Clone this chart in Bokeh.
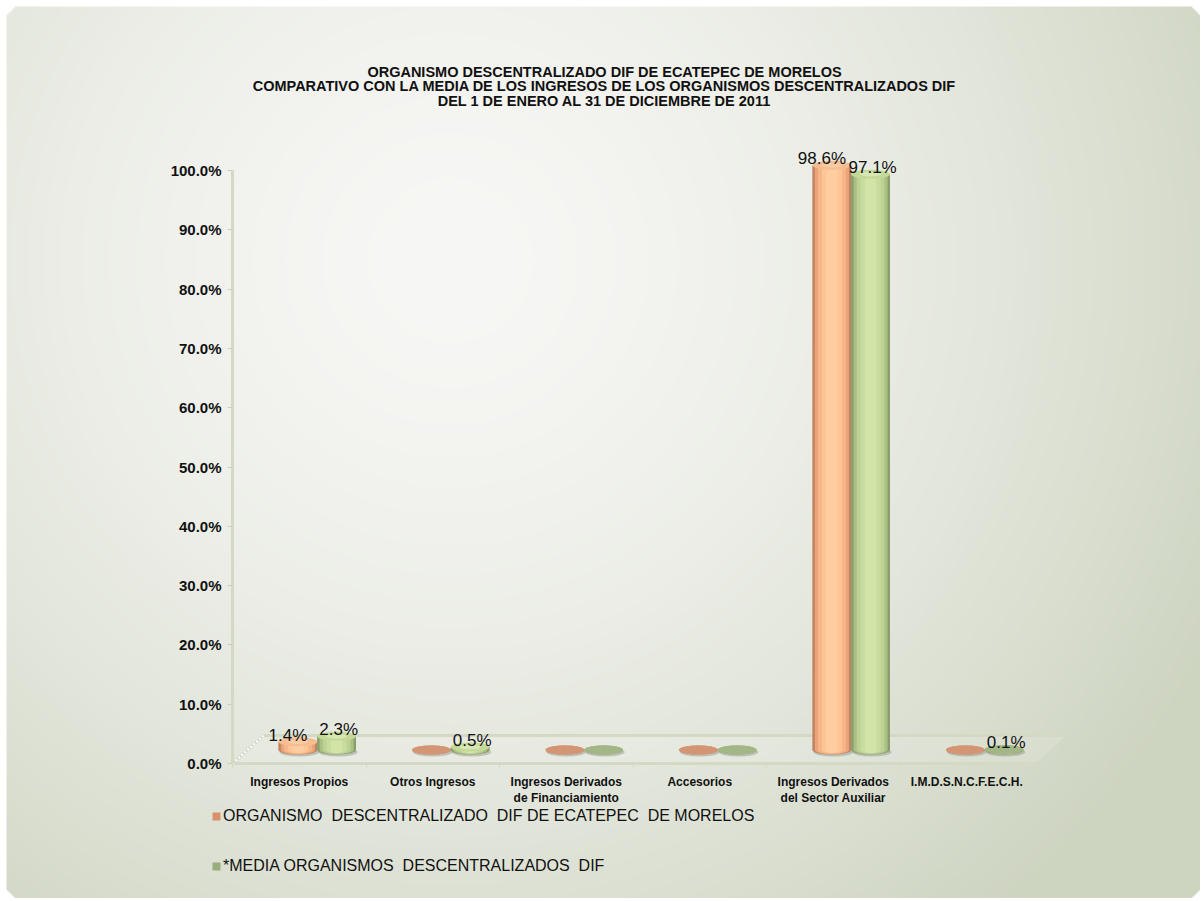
import numpy as np
from bokeh.plotting import figure
from bokeh.models import (Range1d, LinearAxis, FixedTicker, Label, Legend, LegendItem,
                          PrintfTickFormatter)
from bokeh.core.properties import value
from bokeh.embed import file_html
from bokeh.resources import INLINE

# ---------------- data ----------------
categories = ["Ingresos Propios", "Otros Ingresos", "Ingresos Derivados\nde Financiamiento",
              "Accesorios", "Ingresos Derivados\ndel Sector Auxiliar", "I.M.D.S.N.C.F.E.C.H."]
ecatepec = [1.4, 0.0, 0.0, 0.0, 98.6, 0.0]
media = [2.3, 0.5, 0.0, 0.0, 97.1, 0.1]
series_names = ["ORGANISMO  DESCENTRALIZADO  DIF DE ECATEPEC  DE MORELOS",
                "*MEDIA ORGANISMOS  DESCENTRALIZADOS  DIF"]
y_ticks = [0, 10, 20, 30, 40, 50, 60, 70, 80, 90, 100]
title_lines = ["ORGANISMO DESCENTRALIZADO DIF DE ECATEPEC DE MORELOS",
               "COMPARATIVO CON LA MEDIA DE LOS INGRESOS DE LOS ORGANISMOS DESCENTRALIZADOS DIF",
               "DEL 1 DE ENERO AL 31 DE DICIEMBRE DE 2011"]

# ---------------- layout constants ----------------
W, H = 1200, 898
OX, OY = 232.0, 763.0        # canvas pixel of data origin
SX, SY = 133.5, 5.93         # px per unit
x0, x1 = -OX / SX, (W - OX) / SX
y1, y0 = OY / SY, -(H - OY) / SY

FONT = "Liberation Sans"
TXT = "#111111"

p = figure(width=W, height=H, x_range=Range1d(x0, x1), y_range=Range1d(y0, y1),
           x_axis_type=None, y_axis_type=None, toolbar_location=None,
           output_backend="svg", min_border=0)
p.outline_line_color = None
p.background_fill_color = "white"
p.border_fill_color = "white"
p.xgrid.visible = False
p.ygrid.visible = False

# ---------------- background card gradient ----------------
sc = 2
nx, ny = W // sc + 1, H // sc + 1
gx = (np.arange(nx) + 0.5) * sc
gy = (np.arange(ny) + 0.5) * sc
X, Y = np.meshgrid(gx, gy)
d = np.sqrt((X - 450) ** 2 + (Y - 260) ** 2) / 860.0
t = np.clip(d, 0, 1) ** 1.6
L = np.array([247, 247, 245], float)
E = np.array([205, 212, 192], float)
rgb = L[None, None, :] + (E - L)[None, None, :] * t[:, :, None]
# rounded card mask
R = 14
cx0, cy0, cx1, cy1 = 6, 6, W, H
cx = np.clip(X, cx0 + R, cx1 - R)
cy = np.clip(Y, cy0 + R, cy1 - R)
inside = (((X - cx) ** 2 + (Y - cy) ** 2) <= R ** 2) & (X >= cx0) & (Y >= cy0)
alpha = np.where(inside, 255, 0)
img = np.zeros((ny, nx), dtype=np.uint32)
view = img.view(dtype=np.uint8).reshape((ny, nx, 4))
view[:, :, 0] = rgb[:, :, 0].astype(np.uint8)
view[:, :, 1] = rgb[:, :, 1].astype(np.uint8)
view[:, :, 2] = rgb[:, :, 2].astype(np.uint8)
view[:, :, 3] = alpha
img = img[::-1]
p.image_rgba(image=[img], x=x0, y=y1 - ny * sc / SY, dw=nx * sc / SX, dh=ny * sc / SY)

# ---------------- 3D floor ----------------
n = len(categories)
depth_dx, depth_dy = 31 / SX, 28 / SY
floor_x = [0, n + 0.03, n + 0.03 + depth_dx, depth_dx]
floor_y = [0, 0, depth_dy, depth_dy]
p.patch(floor_x, floor_y, fill_color="white", fill_alpha=0.12,
        line_color="#d3d9c5", line_width=3)
p.line([0, depth_dx], [0, depth_dy], line_color="white", line_width=2, line_dash="2 2")

# ---------------- cylinders ----------------
bar_w = 0.29
shift_x, shift_y = 0.135, 13.5 / SY
cap_h = 9 / SY
fracs = [1.0, 0.88, 0.72, 0.52, 0.3]
styles = [
    dict(off=-bar_w / 2, vals=ecatepec,
         body=["#bf8562", "#e9a477", "#f7b687", "#fdc495", "#ffcd9f"],
         cap_hi="#f7bd92", cap_hl="#fdd3b0", cap_lo="#d49574", leg="#d8916a", lx=-10),
    dict(off=bar_w / 2, vals=media,
         body=["#8a9e6c", "#a9bf84", "#bcd193", "#c8dc9e", "#d2e4a8"],
         cap_hi="#c4d897", cap_hl="#e0eec0", cap_lo="#a2b686", leg="#98ad7c", lx=2),
]
leg_renderers = []
for s in styles:
    xs = [i + 0.5 + s["off"] + shift_x for i in range(n)]
    tops = [v + shift_y for v in s["vals"]]
    # soft shadow
    p.ellipse(x=[x + 0.01 for x in xs], y=[shift_y - 0.35] * n, width=bar_w * 1.02,
              height=cap_h, fill_color="#8f918a", fill_alpha=0.45, line_color=None)
    # base body (also the legend swatch), covered by the shaded layers
    leg_renderers.append(p.vbar(x=xs, width=bar_w, bottom=shift_y, top=tops,
                                fill_color=s["leg"], line_color=None))
    for f, c in zip(fracs, s["body"]):
        p.ellipse(x=xs, y=[shift_y] * n, width=bar_w * f, height=cap_h * (0.55 + 0.45 * f),
                  fill_color=c, line_color=None)
        p.vbar(x=xs, width=bar_w * f, bottom=shift_y, top=tops, fill_color=c, line_color=None)
    caps = [s["cap_hi"] if v >= 0.3 else s["cap_lo"] for v in s["vals"]]
    p.ellipse(x=xs, y=tops, width=bar_w, height=cap_h, fill_color=caps, line_color=None)
    hx = [x for x, v in zip(xs, s["vals"]) if v >= 0.3]
    hy = [tp for tp, v in zip(tops, s["vals"]) if v >= 0.3]
    p.ellipse(x=hx, y=hy, width=bar_w * 0.55, height=cap_h * 0.5,
              fill_color=s["cap_hl"], fill_alpha=0.7, line_color=None)
    # data labels (non-zero values)
    lx = [x for x, v in zip(xs, s["vals"]) if v > 0]
    ly = [tp + cap_h / 2 for tp, v in zip(tops, s["vals"]) if v > 0]
    lt = [f"{v:.1f}%" for v in s["vals"] if v > 0]
    p.text(x=lx, y=ly, text=lt, text_align="center", text_baseline="alphabetic",
           x_offset=s["lx"], y_offset=-2, text_font=value(FONT), text_font_size="17px",
           text_color=TXT)

# ---------------- axes ----------------
yaxis = LinearAxis(fixed_location=0, ticker=FixedTicker(ticks=y_ticks),
                   formatter=PrintfTickFormatter(format="%.1f%%"), bounds=(0, 100),
                   axis_line_color="#d3d9c5", axis_line_width=3,
                   major_tick_line_color="#c9cfbb", major_tick_out=5, major_tick_in=0,
                   minor_tick_line_color=None, major_label_standoff=6,
                   major_label_text_font=FONT, major_label_text_font_style="bold",
                   major_label_text_font_size="15px", major_label_text_color=TXT)
p.add_layout(yaxis, "left")

centers = [i + 0.5 for i in range(n)]
xaxis = LinearAxis(fixed_location=0,
                   ticker=FixedTicker(ticks=centers, minor_ticks=list(range(n + 1))),
                   major_label_overrides={c: lab for c, lab in zip(centers, categories)},
                   bounds=(0, n), axis_line_color=None,
                   major_tick_line_color=None, major_tick_out=0, major_tick_in=0,
                   minor_tick_line_color="#d3d9c5", minor_tick_out=5, minor_tick_in=0,
                   major_label_standoff=6,
                   major_label_text_font=FONT, major_label_text_font_style="bold",
                   major_label_text_font_size="12px", major_label_text_color=TXT)
p.add_layout(xaxis, "below")

# ---------------- title ----------------
for k, line in enumerate(title_lines):
    p.add_layout(Label(x=604, y=H - 71 - 14.5 * k, x_units="screen", y_units="screen",
                       text=line, text_align="center", text_baseline="middle",
                       text_font=FONT, text_font_style="bold", text_font_size="14.5px",
                       text_color=TXT))

# ---------------- legend ----------------
leg_items = [LegendItem(label=name, renderers=[r])
             for r, name in zip(leg_renderers, series_names)]
legend = Legend(items=leg_items, location=(211, H - 876), orientation="vertical",
                glyph_width=10, glyph_height=10, label_height=20, spacing=30,
                padding=0, margin=0, border_line_color=None, background_fill_alpha=0,
                label_standoff=2, label_text_font=FONT, label_text_font_size="16px",
                label_text_color=TXT)
p.add_layout(legend, "center")

open("out.html", "w").write(file_html(p, INLINE))
